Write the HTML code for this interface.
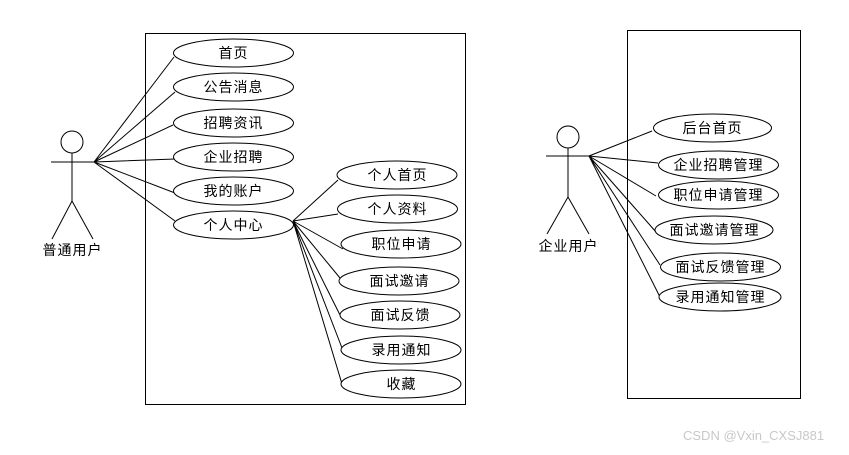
<!DOCTYPE html>
<html><head><meta charset="utf-8"><style>
html,body{margin:0;padding:0;background:#fff}
svg text{font-family:"Liberation Sans","Noto Sans CJK SC",sans-serif;font-size:14px;fill:#000;letter-spacing:1px}
</style></head><body>
<svg width="849" height="450" viewBox="0 0 849 450" xmlns="http://www.w3.org/2000/svg">
<g fill="none" stroke="#000" stroke-width="1">
<rect x="145.5" y="33.5" width="320" height="371"/>
<rect x="627.5" y="30.5" width="173" height="368"/>
<circle cx="72" cy="142" r="11"/>
<line x1="51" y1="162" x2="94" y2="162"/>
<line x1="72" y1="153" x2="72" y2="201"/>
<line x1="72" y1="201" x2="52" y2="239"/>
<line x1="72" y1="201" x2="93" y2="239"/>
<circle cx="568" cy="137" r="11"/>
<line x1="546" y1="156" x2="590" y2="156"/>
<line x1="568" y1="148" x2="568" y2="197"/>
<line x1="568" y1="197" x2="547" y2="234"/>
<line x1="568" y1="197" x2="589" y2="234"/>
<path d="M94 162L174 57M94 162L175 92M94 162L173 125M94 162L175 159M94 162L175 193M94 162L175 221"/>
<path d="M293 221L338 180M293 221L338 214M293 221L343 249M293 221L340 278M293 221L340 315M293 221L342 348M293 221L342 384"/>
<path d="M589 156L652 131M589 156L658 163M589 156L656 196M589 156L656 232M589 156L660 265M589 156L660 297"/>
<g fill="#fff">
<ellipse cx="233.5" cy="53" rx="60" ry="14"/>
<ellipse cx="233.5" cy="87" rx="60" ry="14"/>
<ellipse cx="233.5" cy="123" rx="60" ry="14"/>
<ellipse cx="233.5" cy="157" rx="60" ry="14"/>
<ellipse cx="233.5" cy="191" rx="60" ry="14"/>
<ellipse cx="233.5" cy="225" rx="60" ry="14"/>
<ellipse cx="397" cy="175" rx="60" ry="14"/>
<ellipse cx="397.5" cy="209" rx="60" ry="14"/>
<ellipse cx="401" cy="244" rx="60" ry="14"/>
<ellipse cx="399" cy="281" rx="60" ry="14"/>
<ellipse cx="400" cy="315" rx="60" ry="14"/>
<ellipse cx="401" cy="350" rx="60" ry="14"/>
<ellipse cx="401" cy="384" rx="60" ry="14"/>
<ellipse cx="712.5" cy="128" rx="59" ry="14"/>
<ellipse cx="718.5" cy="165" rx="60" ry="14"/>
<ellipse cx="718.5" cy="195" rx="60" ry="14"/>
<ellipse cx="714" cy="230" rx="59" ry="14"/>
<ellipse cx="720.5" cy="267" rx="60" ry="14"/>
<ellipse cx="720" cy="297" rx="61" ry="14"/>
</g>
</g>
<g text-anchor="middle">
<text x="233.5" y="58">首页</text>
<text x="233.5" y="92">公告消息</text>
<text x="233.5" y="128">招聘资讯</text>
<text x="233.5" y="162">企业招聘</text>
<text x="233.5" y="196">我的账户</text>
<text x="233.5" y="230">个人中心</text>
<text x="397.5" y="180">个人首页</text>
<text x="397.5" y="214">个人资料</text>
<text x="401.5" y="249">职位申请</text>
<text x="399.5" y="286">面试邀请</text>
<text x="400.5" y="320">面试反馈</text>
<text x="401.5" y="355">录用通知</text>
<text x="401.5" y="389">收藏</text>
<text x="712.5" y="133">后台首页</text>
<text x="718.5" y="170">企业招聘管理</text>
<text x="718.5" y="200">职位申请管理</text>
<text x="714.5" y="235">面试邀请管理</text>
<text x="720.5" y="272">面试反馈管理</text>
<text x="720.5" y="302">录用通知管理</text>
<text x="72.5" y="255">普通用户</text>
<text x="568.5" y="251">企业用户</text>
</g>
<text x="683" y="440" style="fill:#c8c8c8;font-size:13px;letter-spacing:0">CSDN @Vxin_CXSJ881</text>
</svg>
</body></html>
